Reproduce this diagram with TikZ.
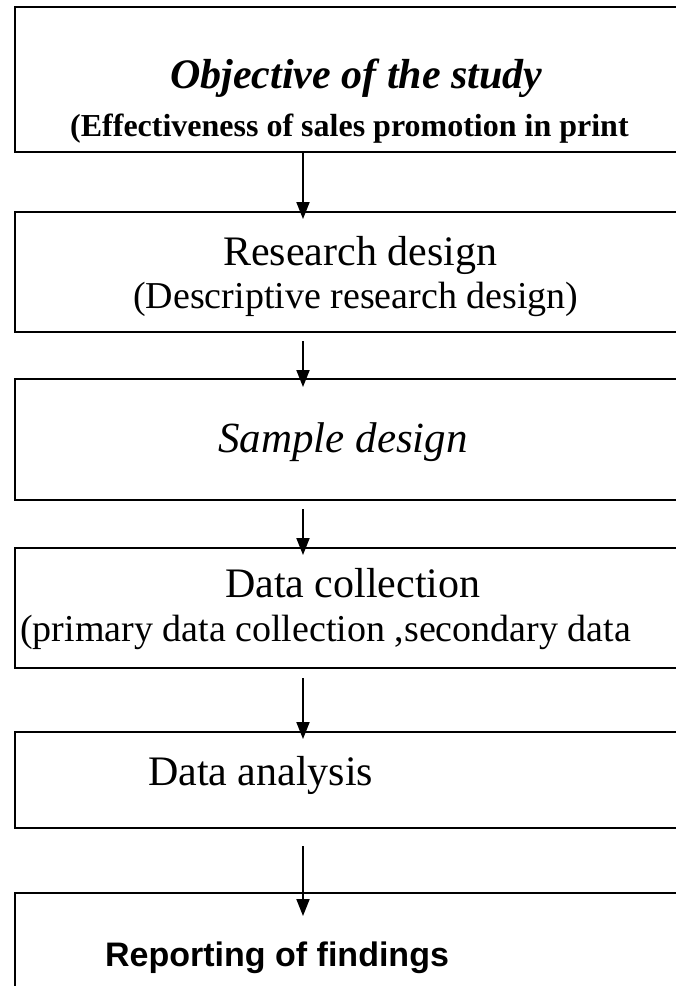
\documentclass[tikz,border=0pt]{standalone}
\usepackage{fontspec}
\setmainfont{Liberation Serif}
\newfontfamily\sansbf{Liberation Sans}
\usetikzlibrary{arrows.meta}

\begin{document}
\begin{tikzpicture}[
        x=1pt, y=-1pt,
        stage/.style={rectangle, draw, line width=2pt, minimum width=675pt, inner sep=0pt},
        label_head/.style={anchor=base west, inner sep=0pt, font=\fontsize{42}{48}\selectfont},
        label_sub/.style={anchor=base west, inner sep=0pt, font=\fontsize{38}{44}\selectfont},
        flow/.style={line width=2pt, -{Triangle[length=17pt,width=13pt]}}
    ]

        \useasboundingbox (0,0) rectangle (676,986);
        \clip (0,0) rectangle (676,986);
        \coordinate (ax) at (303,0);

        \node[stage, minimum height=145pt] (objective)  at (352.5,79.5) {};
        \node[stage, minimum height=120pt] (research)   at (352.5,272)  {};
        \node[stage, minimum height=121pt] (sample)     at (352.5,439.5) {};
        \node[stage, minimum height=120pt] (collection) at (352.5,608)  {};
        \node[stage, minimum height=96pt]  (analysis)   at (352.5,780)  {};
        \node[stage, minimum height=107pt] (reporting)  at (352.5,946.5) {};

        \node[label_head, font=\fontsize{42}{48}\selectfont\bfseries\itshape] (objtxt) at (170,88) {Objective of the study};
        \node[label_sub, font=\fontsize{32}{38}\selectfont\bfseries] (objsub) at (70,136) {(Effectiveness of sales promotion in print};
        \node[label_head] (restxt) at (223,265) {Research design};
        \node[label_sub]  (ressub) at (133,308) {(Descriptive research design)};
        \node[label_head, font=\fontsize{43}{48}\selectfont\itshape] (samtxt) at (218,452) {Sample design};
        \node[label_head] (coltxt) at (225,597) {Data collection};
        \node[label_sub]  (colsub) at (20,641)  {(primary data collection ,secondary data};
        \node[label_head] (anatxt) at (148,785) {Data analysis};
        \node[label_sub, font=\fontsize{34}{40}\selectfont\sansbf\bfseries] (reptxt) at (105,966) {Reporting of findings};

        \draw[flow, shorten >=-8pt] (objective.south -| ax) -- (research.north -| ax);
        \draw[flow, shorten <=8pt, shorten >=-9pt] (research.south -| ax) -- (sample.north -| ax);
        \draw[flow, shorten <=8pt, shorten >=-8pt] (sample.south -| ax) -- (collection.north -| ax);
        \draw[flow, shorten <=9pt, shorten >=-8pt] (collection.south -| ax) -- (analysis.north -| ax);
        \draw[flow, shorten <=17pt, shorten >=-24pt] (analysis.south -| ax) -- (reporting.north -| ax);

    \end{tikzpicture}
\end{document}
